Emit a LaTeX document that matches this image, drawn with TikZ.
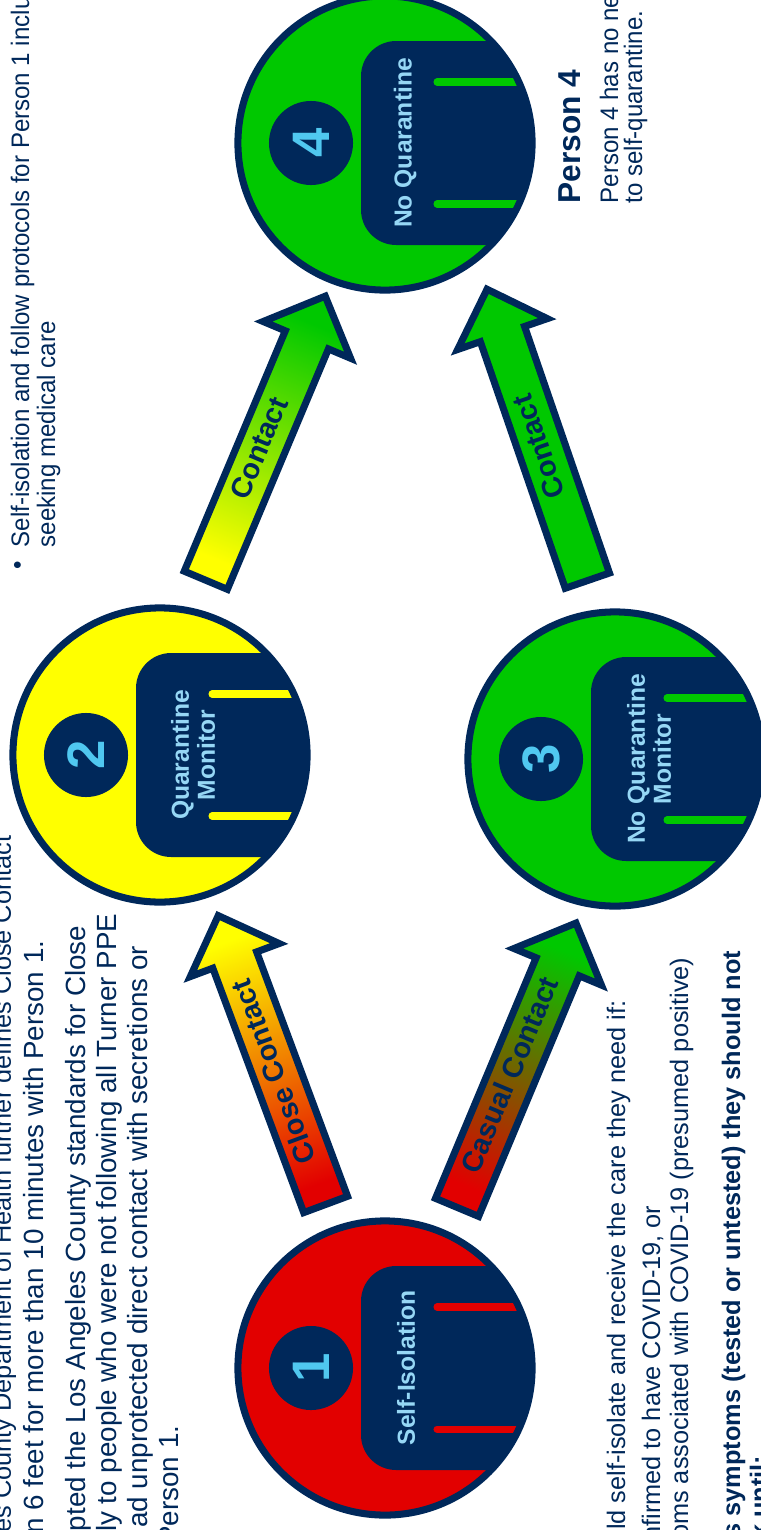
\documentclass[tikz,border=0pt]{standalone}
\usepackage{fontspec}
\setmainfont{Liberation Sans}
\newfontfamily\bodyfont[FakeStretch=0.95]{Liberation Sans}
\usepackage{tikz}
\usetikzlibrary{calc,shapes.arrows}

\definecolor{navy}{RGB}{0,40,90}
\definecolor{redc}{RGB}{226,0,0}
\definecolor{orangec}{RGB}{240,105,0}
\definecolor{yelc}{RGB}{255,255,0}
\definecolor{grnc}{RGB}{0,200,0}
\definecolor{lblue}{RGB}{150,215,245}
\definecolor{nblue}{RGB}{80,200,240}

\begin{document}
\begin{tikzpicture}[x=0.01cm, y=-0.01cm]
        \tikzstyle{person} = [circle, minimum size=2.94cm, inner sep=0pt]
        \tikzstyle{ring}   = [circle, minimum size=2.94cm, inner sep=0pt,
                                                       draw=navy, line width=2pt]
        \tikzstyle{badge}  = [circle, minimum size=0.84cm, inner sep=0pt, fill=navy,
                   text=nblue, font=\bfseries\fontsize{15}{15}\selectfont, rotate=90]
        \tikzstyle{tab}    = [text=lblue, align=center, rotate=90,
                                       font=\bfseries\fontsize{7}{7.4}\selectfont]
        \tikzstyle{flow}   = [single arrow, draw=navy, line width=2pt,
                   minimum height=3.08cm, single arrow head extend=0.24cm,
                   text height=5.9pt, text depth=1.6pt, inner ysep=1.9pt,
                   text=navy, font=\bfseries\fontsize{8.2}{9}\selectfont]
        \tikzstyle{body}   = [text=navy, inner sep=0pt, rotate=90,
                                 font=\bodyfont\fontsize{7.2}{8}\selectfont]
        \tikzstyle{wide}   = [body, font=\fontsize{7.2}{8}\selectfont]
        \tikzstyle{big}    = [body, font=\fontsize{7.9}{9}\selectfont]

        \useasboundingbox (0,0) rectangle (761,1530);
        \clip (0,0) rectangle (761,1530);

        \foreach \n/\pos/\col/\lab/\dx in {1/{385,1368}/redc/Self-Isolation/21,
                  2/{160,755}/yelc/{Quarantine\\Monitor}/33,
                  3/{615,759}/grnc/{No Quarantine\\Monitor}/34,
                  4/{385,143}/grnc/No Quarantine/20}
        {
          \node(p\n)  [person, fill=\col] at (\pos) {};
          \begin{scope}
            \clip (p\n) circle (147);
            \fill[navy, rounded corners=10pt] ($(p\n)+(-24,-102)$) rectangle ++(230,204);
            \draw[\col, line width=2pt, line cap=round]
                 ($(p\n)+(52,-61)$) -- ++(150,0) ($(p\n)+(52,61)$) -- ++(150,0);
          \end{scope}
          \node(r\n)  [ring] at (p\n) {};
          \node(b\n)  [badge] at ($(p\n)+(-74,0)$) {\n};
          \node(t\n)  [tab] at ($(p\n)+(\dx,0)$) {\lab};
        }

        \node(close)  [flow, top color=yelc, middle color=orangec, bottom color=redc,
                   shading angle=20.4, rotate=110.4] at (276,1071) {Close Contact};
        \node(casual) [flow, top color=grnc, bottom color=redc,
                   shading angle=-22.7, rotate=67.3] at (512,1076) {Casual Contact};
        \node(cont24) [flow, top color=grnc, bottom color=yelc,
                   shading angle=-22.8, rotate=67.2] at (261,449) {Contact};
        \node(cont34) [flow, fill=grnc, rotate=109] at (541,446) {Contact};

        % left column
        \node(l1) [big, anchor=base east, font=\fontsize{7.2}{9}\selectfont] at (11,835)
                  {es County Department of Health further defines Close Contact};
        \node(l2) [big, anchor=base east] at (44,940)
                  {n 6 feet for more than 10 minutes with Person 1.};
        \node(l3) [big, anchor=base east] at (85,925)
                  {pted the Los Angeles County standards for Close};
        \node(l4) [big, anchor=base east] at (116,913)
                  {ply to people who were not following all Turner PPE};
        \node(l5) [big, anchor=base east] at (147,945)
                  {ad unprotected direct contact with secretions or};
        \node(l6) [big, anchor=base east] at (178,1425) {Person 1.};

        % bullet at the top
        \node(dot) [body] at (20,565) {\textbullet};
        \node(s1)  [body, anchor=base west] at (29,548)
                  {Self-isolation and follow protocols for Person 1 inclu};
        \node(s2)  [body, anchor=base west] at (55,548) {seeking medical care};

        % person 4
        \node(h4)  [body, anchor=base west, font=\bfseries\fontsize{9}{10}\selectfont]
                  at (580,204) {Person 4};
        \node(q1)  [body, anchor=base west] at (618,204) {Person 4 has no ne};
        \node(q2)  [body, anchor=base west] at (642,204) {to self-quarantine.};

        % lower right
        \node(r1)  [wide, anchor=base east] at (625,1000)
                  {ld self-isolate and receive the care they need if:};
        \node(r2)  [wide, anchor=base east] at (660,1205) {nfirmed to have COVID-19, or};
        \node(r3)  [wide, anchor=base east] at (688,957)
                  {oms associated with COVID-19 (presumed positive)};
        \node(r4)  [wide, anchor=base east, font=\bfseries\fontsize{7.2}{8}\selectfont]
                  at (740,950) {s symptoms (tested or untested) they should not};
        \node(r5)  [wide, anchor=base east, font=\bfseries\fontsize{7.2}{8}\selectfont]
                  at (768,1455) {k until:};
\end{tikzpicture}
\end{document}
